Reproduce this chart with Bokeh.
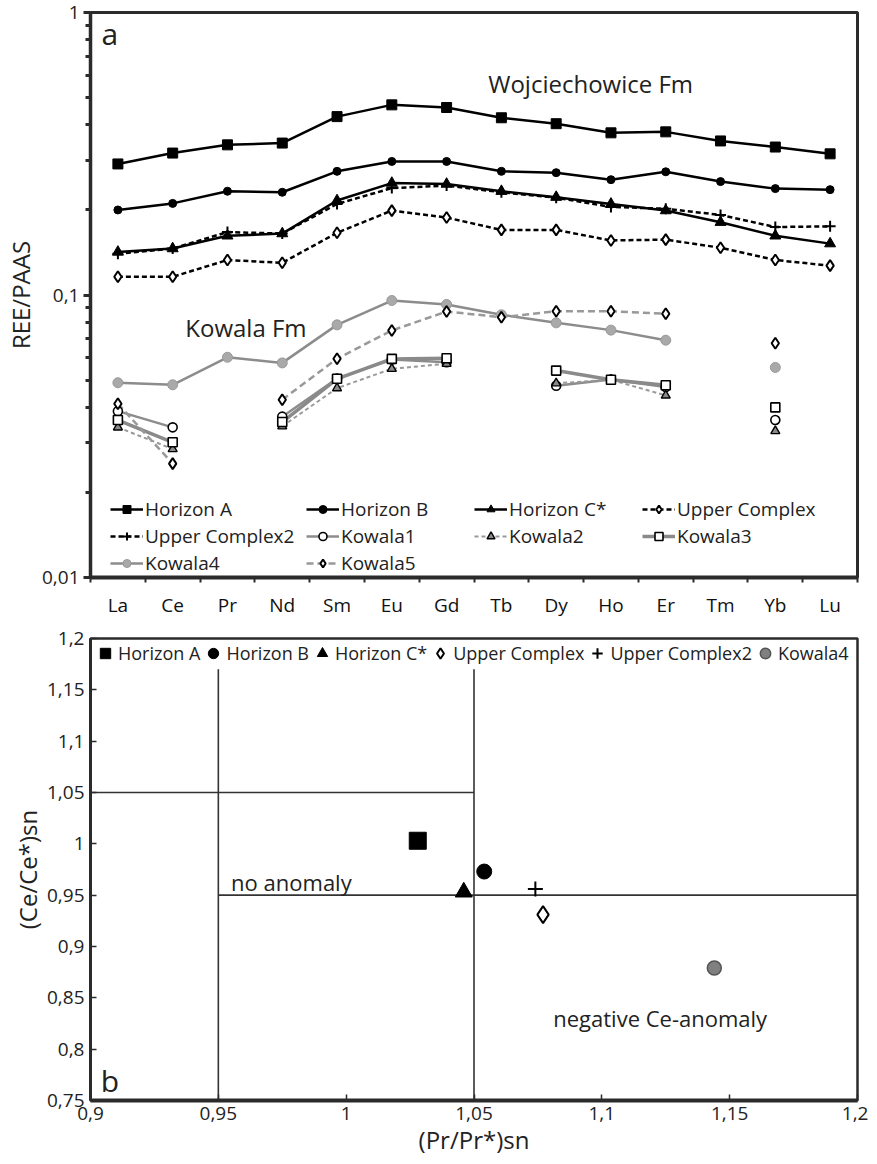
import math
from bokeh.plotting import figure
from bokeh.layouts import column
from bokeh.models import (Range1d, FixedTicker, CustomJSTickFormatter, Legend,
                          LegendItem, Label, ColumnDataSource)
from bokeh.embed import file_html
from bokeh.resources import INLINE

nan = float("nan")

# ---------------- panel a data ----------------
elements = ["La", "Ce", "Pr", "Nd", "Sm", "Eu", "Gd", "Tb", "Dy", "Ho", "Er", "Tm", "Yb", "Lu"]

horizon_a = [0.291, 0.318, 0.340, 0.345, 0.428, 0.471, 0.461, 0.424, 0.404, 0.375, 0.378, 0.351, 0.334, 0.316]
horizon_b = [0.200, 0.211, 0.233, 0.231, 0.274, 0.297, 0.297, 0.274, 0.271, 0.256, 0.273, 0.252, 0.238, 0.236]
horizon_c = [0.142, 0.146, 0.162, 0.165, 0.216, 0.249, 0.247, 0.233, 0.222, 0.210, 0.199, 0.181, 0.162, 0.152]
upper_complex = [0.116, 0.116, 0.133, 0.130, 0.166, 0.199, 0.188, 0.170, 0.170, 0.156, 0.157, 0.147, 0.133, 0.127]
upper_complex2 = [0.140, 0.146, 0.167, 0.165, 0.210, 0.239, 0.244, 0.231, 0.221, 0.205, 0.202, 0.192, 0.174, 0.175]
kowala1 = [0.0388, 0.0340, nan, 0.0371, 0.0506, 0.0591, 0.0578, nan, 0.0477, 0.0502, 0.0472, nan, 0.0361, nan]
kowala2 = [0.0340, 0.0285, nan, 0.0343, 0.0468, 0.0548, 0.0571, nan, 0.0487, 0.0501, 0.0441, nan, 0.0330, nan]
kowala3 = [0.0361, 0.0301, nan, 0.0355, 0.0505, 0.0594, 0.0597, nan, 0.0540, 0.0501, 0.0479, nan, 0.0400, nan]
kowala4 = [0.0489, 0.0481, 0.0602, 0.0575, 0.0784, 0.0956, 0.0926, 0.0851, 0.0797, 0.0751, 0.0692, nan, 0.0554, nan]
kowala5 = [0.0412, 0.0253, nan, 0.0426, 0.0595, 0.0749, 0.0874, 0.0834, 0.0876, 0.0876, 0.0858, nan, 0.0675, nan]

y_ticks_a = [0.01, 0.1, 1.0]
y_tick_labels_a = ["0,01", "0,1", "1"]

# ---------------- panel b data ----------------
samples_b = ["Horizon A", "Horizon B", "Horizon C*", "Upper Complex", "Upper Complex2", "Kowala4"]
pr_anomaly = [1.028, 1.054, 1.046, 1.077, 1.074, 1.144]
ce_anomaly = [1.003, 0.973, 0.953, 0.931, 0.956, 0.879]

x_ticks_b = [0.9, 0.95, 1.0, 1.05, 1.1, 1.15, 1.2]
x_tick_labels_b = ["0,9", "0,95", "1", "1,05", "1,1", "1,15", "1,2"]
y_ticks_b = [0.75, 0.8, 0.85, 0.9, 0.95, 1.0, 1.05, 1.1, 1.15, 1.2]
y_tick_labels_b = ["0,75", "0,8", "0,85", "0,9", "0,95", "1", "1,05", "1,1", "1,15", "1,2"]

# field boundaries (no anomaly box / negative Ce-anomaly field)
bound_x0 = [0.9, 0.95, 0.95, 1.05]
bound_x1 = [1.05, 1.2, 0.95, 1.05]
bound_y0 = [1.05, 0.95, 0.75, 0.75]
bound_y1 = [1.05, 0.95, 1.17, 1.17]

FONT = "Open Sans"
DARK = "#2b2b2b"
GRAY = "#8c8c8c"

label_code = """
let best = -1, d = Infinity;
for (let i = 0; i < tvals.length; i++) {
  const e = Math.abs(tvals[i] - tick) / Math.max(Math.abs(tvals[i]), 1e-9);
  if (e < d) { d = e; best = i; }
}
return (best >= 0 && d < 1e-6) ? tlabels[best] : "";
"""

# ================= panel a =================
p1 = figure(width=868, height=620, x_range=Range1d(0, len(elements)), y_range=Range1d(0.01, 1),
            y_axis_type="log", output_backend="svg", toolbar_location=None,
            min_border_left=88, min_border_right=11, min_border_top=12, min_border_bottom=42)
p1.grid.visible = False
p1.outline_line_color = DARK
p1.outline_line_width = 3
p1.background_fill_color = "white"

xs = [i + 0.5 for i in range(len(elements))]

# x axis: element names centred, ticks at boundaries
p1.xaxis.ticker = FixedTicker(ticks=xs, minor_ticks=list(range(len(elements) + 1)))
p1.xaxis.formatter = CustomJSTickFormatter(args=dict(names=elements), code="""
const i = Math.round(tick - 0.5);
return (i >= 0 && i < names.length) ? names[i] : "";
""")
p1.xaxis.major_tick_line_color = None
p1.xaxis.minor_tick_in = 0
p1.xaxis.minor_tick_out = 5
p1.xaxis.minor_tick_line_width = 2
p1.xaxis.minor_tick_line_color = DARK
p1.xaxis.axis_line_width = 4
p1.xaxis.axis_line_color = DARK
p1.xaxis.major_label_text_font = FONT
p1.xaxis.major_label_text_font_size = "19px"
p1.xaxis.major_label_text_color = "#111"
p1.xaxis.major_label_standoff = 8

minor_a = [m * 10.0 ** e for e in (-2, -1) for m in range(2, 10)]
p1.yaxis.ticker = FixedTicker(ticks=y_ticks_a, minor_ticks=minor_a)
p1.yaxis.formatter = CustomJSTickFormatter(args=dict(tvals=y_ticks_a, tlabels=y_tick_labels_a), code=label_code)
p1.yaxis.axis_line_width = 3.5
p1.yaxis.axis_line_color = DARK
p1.yaxis.major_tick_in = 0
p1.yaxis.major_tick_out = 7
p1.yaxis.major_tick_line_width = 3
p1.yaxis.major_tick_line_color = DARK
p1.yaxis.minor_tick_in = 0
p1.yaxis.minor_tick_out = 5
p1.yaxis.minor_tick_line_width = 3
p1.yaxis.minor_tick_line_color = DARK
p1.yaxis.major_label_text_font = FONT
p1.yaxis.major_label_text_font_size = "19px"
p1.yaxis.major_label_text_color = "#222"
p1.yaxis.major_label_standoff = 4
p1.yaxis.axis_label = "REE/PAAS"
p1.yaxis.axis_label_text_font = FONT
p1.yaxis.axis_label_text_font_size = "24px"
p1.yaxis.axis_label_text_font_style = "normal"
p1.yaxis.axis_label_text_color = "#222"
p1.yaxis.axis_label_standoff = 2

series_a = [
    ("Horizon A", horizon_a, dict(line_color="black", line_width=2.5, line_dash="solid"),
     dict(marker="square", size=10, fill_color="black", line_color="black", line_width=1)),
    ("Horizon B", horizon_b, dict(line_color="black", line_width=2.5, line_dash="solid"),
     dict(marker="circle", size=8, fill_color="black", line_color="black", line_width=1)),
    ("Horizon C*", horizon_c, dict(line_color="black", line_width=2.5, line_dash="solid"),
     dict(marker="triangle", size=11, fill_color="black", line_color="black", line_width=1)),
    ("Upper Complex", upper_complex, dict(line_color="black", line_width=2.5, line_dash="5 3"),
     dict(marker="diamond", size=11, fill_color="white", line_color="black", line_width=2)),
    ("Upper Complex2", upper_complex2, dict(line_color="black", line_width=2.5, line_dash="5 3"),
     dict(marker="cross", size=11, fill_color="black", line_color="black", line_width=2)),
    ("Kowala1", kowala1, dict(line_color=GRAY, line_width=2.5, line_dash="solid"),
     dict(marker="circle", size=9, fill_color="white", line_color="black", line_width=1.6)),
    ("Kowala2", kowala2, dict(line_color="#999999", line_width=2, line_dash="4 3"),
     dict(marker="triangle", size=9, fill_color="#8a8a8a", line_color="black", line_width=1.4)),
    ("Kowala3", kowala3, dict(line_color="#8a8a8a", line_width=3.5, line_dash="solid"),
     dict(marker="square", size=9, fill_color="white", line_color="black", line_width=1.6)),
    ("Kowala4", kowala4, dict(line_color=GRAY, line_width=2.5, line_dash="solid"),
     dict(marker="circle", size=10, fill_color="#a9a9a9", line_color="#999999", line_width=1)),
    ("Kowala5", kowala5, dict(line_color="#999999", line_width=2.5, line_dash="7 4"),
     dict(marker="diamond", size=11, fill_color="white", line_color="black", line_width=2)),
]

line_r = {}
for name, vals, ls, ms in series_a:
    src = ColumnDataSource(dict(x=xs, y=vals))
    line_r[name] = (src, p1.line("x", "y", source=src, **ls))
items_a = {}
for name, vals, ls, ms in series_a:
    src, lr = line_r[name]
    sr = p1.scatter("x", "y", source=src, **ms)
    items_a[name] = LegendItem(label=name, renderers=[lr, sr])

legend_cols = [
    (["Horizon A", "Upper Complex2", "Kowala4"], (20, 1)),
    (["Horizon B", "Kowala1", "Kowala5"], (216, 1)),
    (["Horizon C*", "Kowala2"], (384, 28)),
    (["Upper Complex", "Kowala3"], (552, 28)),
]
for names, loc in legend_cols:
    lg = Legend(items=[items_a[n] for n in names], location=loc, orientation="vertical",
                glyph_width=33, glyph_height=20, label_standoff=2, spacing=1,
                padding=0, margin=0, border_line_color=None, background_fill_alpha=0,
                label_text_font=FONT, label_text_font_size="19px", label_text_color="#222")
    p1.add_layout(lg)

p1.add_layout(Label(x=7.26, y=0.561, text="Wojciechowice Fm", text_font=FONT, text_font_size="24px",
                    text_color="#222", text_baseline="middle"))
p1.add_layout(Label(x=1.73, y=0.0767, text="Kowala Fm", text_font=FONT, text_font_size="24px",
                    text_color="#222", text_baseline="middle"))
p1.add_layout(Label(x=0.2, y=0.84, text="a", text_font=FONT, text_font_size="30px",
                    text_color="#222", text_baseline="middle"))

# ================= panel b =================
p2 = figure(width=868, height=544, x_range=Range1d(0.9, 1.2), y_range=Range1d(0.75, 1.2),
            output_backend="svg", toolbar_location=None,
            min_border_left=88, min_border_right=11, min_border_top=18, min_border_bottom=64)
p2.grid.visible = False
p2.outline_line_color = DARK
p2.outline_line_width = 2.5

p2.segment(x0=bound_x0, y0=bound_y0, x1=bound_x1, y1=bound_y1, line_color="#333333", line_width=1.6)

p2.xaxis.ticker = FixedTicker(ticks=x_ticks_b)
p2.xaxis.formatter = CustomJSTickFormatter(args=dict(tvals=x_ticks_b, tlabels=x_tick_labels_b), code=label_code)
p2.yaxis.ticker = FixedTicker(ticks=y_ticks_b)
p2.yaxis.formatter = CustomJSTickFormatter(args=dict(tvals=y_ticks_b, tlabels=y_tick_labels_b), code=label_code)
for ax in (p2.xaxis, p2.yaxis):
    ax.major_tick_in = 6
    ax.major_tick_out = 0
    ax.major_tick_line_width = 1.5
    ax.major_tick_line_color = DARK
    ax.minor_tick_line_color = None
    ax.axis_line_color = DARK
    ax.major_label_text_font = FONT
    ax.major_label_text_font_size = "19px"
    ax.major_label_text_color = "#222"
    ax.axis_label_text_font = FONT
    ax.axis_label_text_font_size = "24px"
    ax.axis_label_text_font_style = "normal"
    ax.axis_label_text_color = "#222"
    ax.axis_label_standoff = 0
p2.xaxis.axis_line_width = 4
p2.yaxis.axis_line_width = 3
p2.xaxis.major_label_standoff = 6
p2.yaxis.major_label_standoff = 6
p2.xaxis.axis_label = "(Pr/Pr*)sn"
p2.yaxis.axis_label = "(Ce/Ce*)sn"

styles_b = [
    dict(marker="square", size=17, fill_color="black", line_color="black", line_width=1),
    dict(marker="circle", size=15, fill_color="black", line_color="black", line_width=1),
    dict(marker="triangle", size=17, fill_color="black", line_color="black", line_width=1),
    dict(marker="diamond", size=17, fill_color="white", line_color="black", line_width=2),
    dict(marker="cross", size=15, fill_color="black", line_color="black", line_width=2),
    dict(marker="circle", size=14, fill_color="#808080", line_color="#555555", line_width=1.5),
]
items_b = []
for i, name in enumerate(samples_b):
    src = ColumnDataSource(dict(x=[pr_anomaly[i]], y=[ce_anomaly[i]]))
    r = p2.scatter("x", "y", source=src, **styles_b[i])
    items_b.append(LegendItem(label=name, renderers=[r]))

lgb = Legend(items=items_b, location="top_left", orientation="horizontal",
             glyph_width=26, glyph_height=26, label_standoff=0, spacing=0,
             padding=0, margin=2, border_line_color=None, background_fill_alpha=0,
             label_text_font=FONT, label_text_font_size="18px", label_text_color="#222")
p2.add_layout(lgb)

p2.add_layout(Label(x=0.955, y=0.9624, text="no anomaly", text_font=FONT, text_font_size="22px",
                    text_color="#222", text_baseline="middle"))
p2.add_layout(Label(x=1.081, y=0.83, text="negative Ce-anomaly", text_font=FONT, text_font_size="22px",
                    text_color="#222", text_baseline="middle"))
p2.add_layout(Label(x=0.904, y=0.7695, text="b", text_font=FONT, text_font_size="30px",
                    text_color="#222", text_baseline="middle"))

layout = column(p1, p2, spacing=0)
open("out.html", "w").write(file_html(layout, INLINE))
